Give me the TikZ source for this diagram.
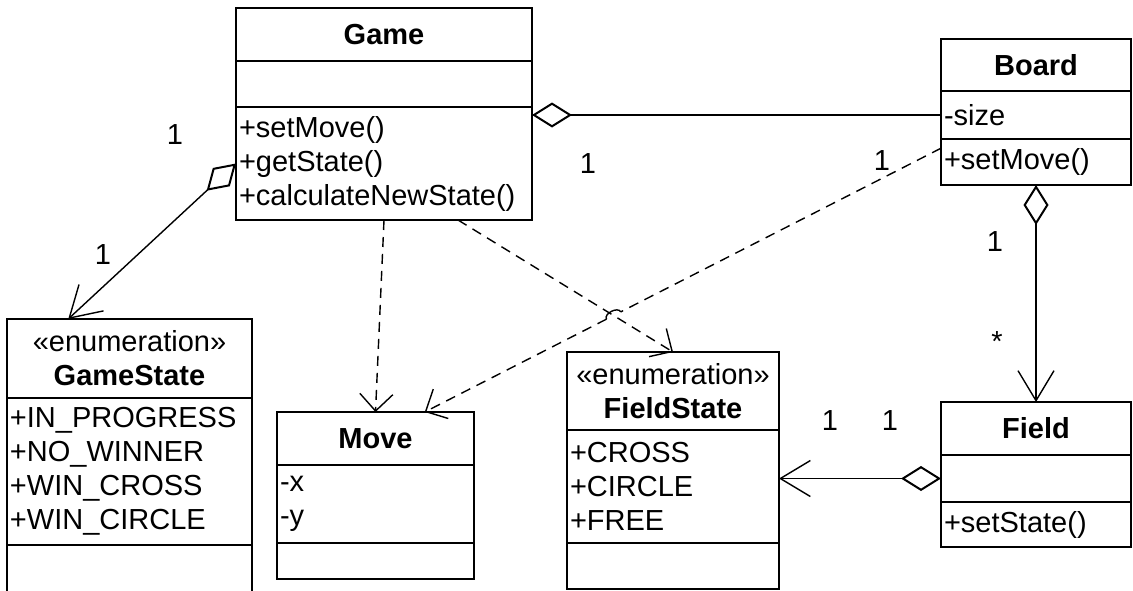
\documentclass[tikz,border=0pt]{standalone}
\usepackage{fontspec}
\setmainfont{Liberation Sans}
\usetikzlibrary{arrows.meta, calc, intersections}

\begin{document}
\begin{tikzpicture}[x=0.5pt, y=-0.5pt,
        font=\fontsize{14.5}{17}\selectfont,
        box/.style={draw, line width=1pt, anchor=north west, inner xsep=1.5pt, inner ysep=0pt, outer sep=0pt, align=left},
        title/.style={box, align=center},
        aggr/.style={line width=0.7pt, {Diamond[open,length=20pt,width=12.5pt,line width=1pt]}-},
        aggnav/.style={line width=0.7pt, {Diamond[open,length=20pt,width=12.5pt,line width=1pt]}-{Straight Barb[length=15pt,width=18pt]}},
        dashline/.style={line width=0.7pt, dash pattern=on 5pt off 3.5pt},
        dep/.style={dashline, -{Straight Barb[length=8.5pt,width=16.5pt]}},
        mult/.style={inner sep=0pt}]
        \useasboundingbox (0,0) rectangle (1133,590);

        % Game
        \node[title, text width=145pt, minimum height=26.5pt] (game-h) at (236,8) {\textbf{Game}};
        \node[box, text width=145pt, minimum height=23pt] (game-a) at (game-h.south west) {};
        \node[box, text width=145pt, minimum height=56.5pt] (game-m) at (game-a.south west) {+setMove()\\+getState()\\+calculateNewState()};

        % Board
        \node[title, text width=92pt, minimum height=26pt] (bd-h) at (941,39) {\textbf{Board}};
        \node[box, text width=92pt, minimum height=24pt] (bd-a) at (bd-h.south west) {-size};
        \node[box, text width=92pt, minimum height=23pt] (bd-m) at (bd-a.south west) {+setMove()};

        % Field
        \node[title, text width=92pt, minimum height=26.5pt] (fd-h) at (941,402) {\textbf{Field}};
        \node[box, text width=92pt, minimum height=23.5pt] (fd-a) at (fd-h.south west) {};
        \node[box, text width=92pt, minimum height=22.5pt] (fd-m) at (fd-a.south west) {+setState()};

        % Move
        \node[title, text width=95.5pt, minimum height=26.5pt] (mv-h) at (277,412) {\textbf{Move}};
        \node[box, text width=95.5pt, minimum height=39pt] (mv-a) at (mv-h.south west) {-x\\-y};
        \node[box, text width=95.5pt, minimum height=18pt] (mv-m) at (mv-a.south west) {};

        % GameState
        \node[title, text width=119.5pt, minimum height=39.5pt] (gs-h) at (7,319) {«enumeration»\\\textbf{GameState}};
        \node[box, text width=119.5pt, minimum height=73.5pt] (gs-a) at (gs-h.south west) {+IN\_PROGRESS\\+NO\_WINNER\\+WIN\_CROSS\\+WIN\_CIRCLE};
        \node[box, text width=119.5pt, minimum height=24pt] (gs-m) at (gs-a.south west) {};

        % FieldState
        \node[title, text width=103pt, minimum height=39pt] (fs-h) at (567,352) {«enumeration»\\\textbf{FieldState}};
        \node[box, text width=103pt, minimum height=56.5pt] (fs-a) at (fs-h.south west) {+CROSS\\+CIRCLE\\+FREE};
        \node[box, text width=103pt, minimum height=23pt] (fs-m) at (fs-a.south west) {};

        % connector ends
        \coordinate (gs-top) at ($(gs-h.north west)!0.25!(gs-h.north east)$);
        \coordinate (game-r) at ($(game-m.south west)!0.75!(game-m.south east)$);
        \coordinate (bd-l) at ($(bd-m.north west)!0.2!(bd-m.south west)$);
        \coordinate (mv-r) at ($(mv-h.north)!0.5!(mv-h.north east)$);

        % associations
        \draw[aggr] (game-m.east |- bd-a.west) -- (bd-a.west);
        \draw[aggnav] (game-m.west) -- (gs-top);
        \draw[aggnav] (bd-m.south) -- (fd-h.north);
        \draw[aggnav] (fd-a.west) -- (fd-a.west -| fs-a.east);

        % dependencies
        \draw[dep, name path=gf] (game-r) -- (fs-h.north);
        \draw[dep] (game-m.south) -- (mv-h.north);
        \path[name path=bm] (bd-l) -- (mv-r);
        \path[name intersections={of=gf and bm, by=hop}];
        \coordinate (hop-a) at ($(hop)!4pt!(bd-l)$);
        \coordinate (hop-b) at ($(hop)!4pt!(mv-r)$);
        \draw[dashline] (bd-l) -- (hop-a);
        \draw[line width=0.7pt] (hop-a) to[bend right=90] (hop-b);
        \draw[dep] (hop-b) -- (mv-r);

        % multiplicities
        \node[mult] (m-gs1) at (175,135) {1};
        \node[mult] (m-gs2) at (103,255) {1};
        \node[mult] (m-bd1) at (588,164) {1};
        \node[mult] (m-bd2) at (882,161) {1};
        \node[mult] (m-fd1) at (995,242) {1};
        \node[mult] (m-fd2) at (997,342) {*};
        \node[mult] (m-fs1) at (830,421) {1};
        \node[mult] (m-fs2) at (890,421) {1};
\end{tikzpicture}
\end{document}
